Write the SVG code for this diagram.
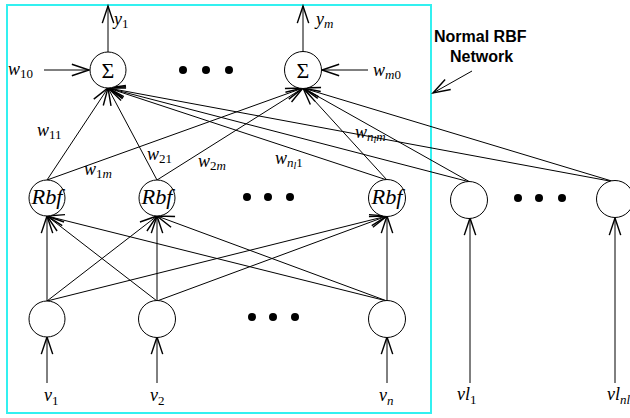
<svg xmlns="http://www.w3.org/2000/svg" width="630" height="418" viewBox="0 0 630 418">
<style>
.n{fill:#fff;stroke:#000;stroke-width:1}
.c line{stroke:#000;stroke-width:1}
.a{marker-end:url(#ah)}
.t{font-family:"Liberation Serif",serif;font-style:italic;font-size:18px;fill:#000}
.sig{font-family:"Liberation Serif",serif;font-size:22px;fill:#000}
.rbf{font-family:"Liberation Serif",serif;font-style:italic;font-size:20px;fill:#000}
.s{font-size:13px;font-style:normal}
.si{font-size:13px}
.ss{font-size:10px}
.dot{fill:#000}
.lbl{font-family:"Liberation Sans",Arial,sans-serif;font-weight:bold;font-size:16px;fill:#000}
</style>
<defs>
<marker id="ah" markerUnits="userSpaceOnUse" markerWidth="20" markerHeight="20" refX="0" refY="0" viewBox="-12 -6 14 12" orient="auto" overflow="visible">
<path d="M-12 -4 L0 0 L-12 4" fill="none" stroke="#000" stroke-width="1"/>
</marker>
</defs>
<rect x="7" y="5" width="424" height="408" fill="none" stroke="#33f0f0" stroke-width="2"/>
<g class="c" id="connectors">
<line class="a" x1="108" y1="52" x2="108" y2="6"/>
<line class="a" x1="303" y1="52" x2="303" y2="6"/>
<line class="a" x1="44" y1="70" x2="89" y2="70"/>
<line class="a" x1="368" y1="70" x2="322" y2="70"/>
<line class="a" x1="47" y1="180" x2="108" y2="88"/>
<line class="a" x1="157" y1="180" x2="108" y2="88"/>
<line class="a" x1="387" y1="180" x2="108" y2="88"/>
<line class="a" x1="470" y1="182" x2="108" y2="88"/>
<line class="a" x1="615" y1="182" x2="108" y2="88"/>
<line class="a" x1="47" y1="180" x2="303" y2="88"/>
<line class="a" x1="157" y1="180" x2="303" y2="88"/>
<line class="a" x1="387" y1="180" x2="303" y2="88"/>
<line class="a" x1="470" y1="182" x2="303" y2="88"/>
<line class="a" x1="615" y1="182" x2="303" y2="88"/>
<line class="a" x1="47" y1="301" x2="47" y2="216"/>
<line class="a" x1="157" y1="301" x2="47" y2="216"/>
<line class="a" x1="387" y1="301" x2="47" y2="216"/>
<line class="a" x1="47" y1="301" x2="157" y2="216"/>
<line class="a" x1="157" y1="301" x2="157" y2="216"/>
<line class="a" x1="387" y1="301" x2="157" y2="216"/>
<line class="a" x1="47" y1="301" x2="387" y2="216"/>
<line class="a" x1="157" y1="301" x2="387" y2="216"/>
<line class="a" x1="387" y1="301" x2="387" y2="216"/>
<line class="a" x1="47" y1="383" x2="47" y2="337"/>
<line class="a" x1="157" y1="383" x2="157" y2="337"/>
<line class="a" x1="387" y1="383" x2="387" y2="337"/>
<line class="a" x1="470" y1="383" x2="470" y2="218"/>
<line class="a" x1="615" y1="383" x2="615" y2="218"/>
<line class="a" x1="472" y1="71" x2="433" y2="93"/>
</g>
<g id="sum1"><circle class="n" cx="108" cy="70" r="18"/><text class="sig" x="108" y="78" text-anchor="middle">Σ</text></g>
<g id="summ"><circle class="n" cx="303" cy="70" r="18.5"/><text class="sig" x="303" y="78" text-anchor="middle">Σ</text></g>
<g id="rbf1"><circle class="n" cx="47" cy="198" r="18"/><text class="rbf" x="47" y="204" text-anchor="middle" textLength="31" lengthAdjust="spacingAndGlyphs">Rbf</text></g>
<g id="rbf2"><circle class="n" cx="157" cy="198" r="18"/><text class="rbf" x="157" y="204" text-anchor="middle" textLength="31" lengthAdjust="spacingAndGlyphs">Rbf</text></g>
<g id="rbfn"><circle class="n" cx="387" cy="198" r="18.5"/><text class="rbf" x="387" y="204" text-anchor="middle" textLength="31" lengthAdjust="spacingAndGlyphs">Rbf</text></g>
<g id="ext1"><circle class="n" cx="469" cy="200" r="18.5"/></g>
<g id="extn"><circle class="n" cx="615" cy="199" r="18.5"/></g>
<g id="in1"><circle class="n" cx="47" cy="319" r="18"/></g>
<g id="in2"><circle class="n" cx="157" cy="319" r="18.5"/></g>
<g id="inn"><circle class="n" cx="387" cy="319" r="18.5"/></g>
<g id="dots">
<circle class="dot" cx="183" cy="70" r="4"/><circle class="dot" cx="206" cy="70" r="4"/><circle class="dot" cx="229" cy="70" r="4"/>
<circle class="dot" cx="247" cy="197" r="4"/><circle class="dot" cx="268" cy="197" r="4"/><circle class="dot" cx="290" cy="197" r="4"/>
<circle class="dot" cx="518" cy="198" r="4"/><circle class="dot" cx="539" cy="198" r="4"/><circle class="dot" cx="562" cy="198" r="4"/>
<circle class="dot" cx="252" cy="317" r="4"/><circle class="dot" cx="273" cy="317" r="4"/><circle class="dot" cx="295" cy="317" r="4"/>
</g>
<g id="labels">
<text class="t" x="114" y="25">y<tspan class="s" dy="3">1</tspan></text>
<text class="t" x="316" y="25">y<tspan class="si" dy="3">m</tspan></text>
<text class="t" x="8" y="75">w<tspan class="s" dy="3">10</tspan></text>
<text class="t" x="373" y="76">w<tspan class="si" dy="3">m</tspan><tspan class="s">0</tspan></text>
<text class="t" x="37" y="136">w<tspan class="s" dy="3">11</tspan></text>
<text class="t" x="147" y="160">w<tspan class="s" dy="3">21</tspan></text>
<text class="t" x="84" y="175">w<tspan class="s" dy="3">1</tspan><tspan class="si">m</tspan></text>
<text class="t" x="198" y="167">w<tspan class="s" dy="3">2</tspan><tspan class="si">m</tspan></text>
<text class="t" x="275" y="164">w<tspan class="si" dy="3">n</tspan><tspan class="ss" dy="2">l</tspan><tspan class="s" dy="-2">1</tspan></text>
<text class="t" x="355" y="138">w<tspan class="si" dy="3">n</tspan><tspan class="ss" dy="2">l</tspan><tspan class="si" dy="-2">m</tspan></text>
<text class="t" x="44" y="401">v<tspan class="s" dy="4">1</tspan></text>
<text class="t" x="150" y="401">v<tspan class="s" dy="4">2</tspan></text>
<text class="t" x="379" y="401">v<tspan class="si" dy="4">n</tspan></text>
<text class="t" x="457" y="400">vl<tspan class="s" dy="4">1</tspan></text>
<text class="t" x="607" y="400">vl<tspan class="si" dy="4">nl</tspan></text>
<text class="lbl" x="434" y="42">Normal RBF</text>
<text class="lbl" x="450" y="62">Network</text>
</g>
</svg>
